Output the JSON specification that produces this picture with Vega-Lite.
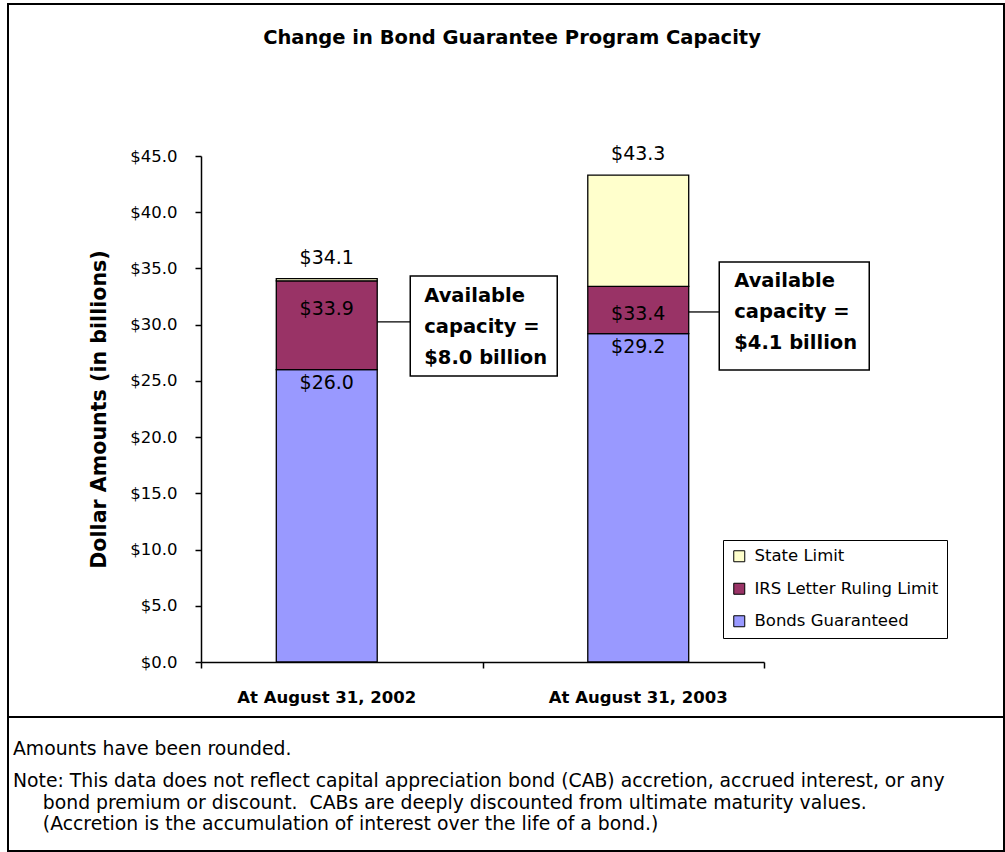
{
  "$schema": "https://vega.github.io/schema/vega-lite/v6.json",
  "background": "white",
  "padding": {"left": 7, "top": 3, "right": 0, "bottom": 0},
  "bounds": "flush",
  "spacing": 0,
  "config": {
    "view": {"stroke": "black", "strokeWidth": 2, "fill": "white"},
    "font": "DejaVu Sans",
    "axis": {"grid": false, "domainColor": "black", "tickColor": "black", "labelColor": "black", "titleColor": "black", "domainWidth": 1.5, "tickWidth": 1.5, "labelFont": "DejaVu Sans", "titleFont": "DejaVu Sans"}
  },
  "datasets": {
    "capacity": [
      {"date": "At August 31, 2002", "series": "Bonds Guaranteed", "value": 26.0},
      {"date": "At August 31, 2002", "series": "IRS Letter Ruling Limit", "value": 7.9},
      {"date": "At August 31, 2002", "series": "State Limit", "value": 0.2},
      {"date": "At August 31, 2003", "series": "Bonds Guaranteed", "value": 29.2},
      {"date": "At August 31, 2003", "series": "IRS Letter Ruling Limit", "value": 4.2},
      {"date": "At August 31, 2003", "series": "State Limit", "value": 9.9}
    ],
    "available": [
      {"date": "At August 31, 2002", "label": "Available\ncapacity =\n$8.0 billion"},
      {"date": "At August 31, 2003", "label": "Available\ncapacity =\n$4.1 billion"}
    ]
  },
  "vconcat": [
    {
      "width": 996,
      "height": 713,
      "title": {
        "text": "Change in Bond Guarantee Program Capacity",
        "font": "DejaVu Sans",
        "fontSize": 19.5,
        "fontWeight": "bold",
        "color": "black",
        "anchor": "middle",
        "frame": "group",
        "offset": -44,
        "dx": 6
      },
      "layer": [
        {
          "layer": [
            {
              "data": {"name": "capacity"},
              "transform": [
                {"stack": "value", "groupby": ["date"], "sort": [{"field": "series", "order": "ascending"}], "as": ["v0", "v1"]}
              ],
              "mark": {"type": "bar", "stroke": "black", "strokeWidth": 1.3},
              "encoding": {
                "x": {
                  "field": "date",
                  "type": "nominal",
                  "scale": {"domain": ["At August 31, 2002", "At August 31, 2003"], "range": [193, 756], "paddingInner": 0.676, "paddingOuter": 0.2417},
                  "axis": {"title": null, "labelAngle": 0, "ticks": false, "tickSize": 0, "labelPadding": 27, "labelFontSize": 16.5, "labelFontWeight": "bold", "offset": -55, "labelLimit": 400}
                },
                "y": {
                  "field": "v0",
                  "type": "quantitative",
                  "scale": {"domain": [0, 45], "range": [658, 152], "nice": false},
                  "axis": {"title": "Dollar Amounts (in billions)", "values": [0, 5, 10, 15, 20, 25, 30, 35, 40, 45], "format": "$.1f", "offset": -193, "tickSize": 6, "labelPadding": 18, "labelFontSize": 16.5, "titleFontSize": 20.6, "titleFontWeight": "bold", "titlePadding": 20}
                },
                "y2": {"field": "v1"},
                "color": {
                  "field": "series",
                  "type": "nominal",
                  "scale": {"domain": ["State Limit", "IRS Letter Ruling Limit", "Bonds Guaranteed"], "range": ["#FFFFCC", "#993366", "#9999FF"]},
                  "legend": {"title": null, "orient": "none", "legendX": 715, "legendY": 536, "direction": "vertical", "fillColor": "white", "strokeColor": "black", "padding": 8, "symbolType": "square", "symbolSize": 121, "symbolStrokeColor": "black", "symbolStrokeWidth": 1, "labelFontSize": 16.5, "labelColor": "black", "labelOffset": 7, "rowPadding": 15.5, "labelFont": "DejaVu Sans", "labelLimit": 400}
                }
              }
            },
            {
              "data": {"name": "capacity"},
              "transform": [
                {"stack": "value", "groupby": ["date"], "sort": [{"field": "series", "order": "ascending"}], "as": ["v0", "v1"]},
                {"filter": "datum.series === 'Bonds Guaranteed'"}
              ],
              "mark": {"type": "text", "dy": 13, "fontSize": 19, "color": "black", "baseline": "middle"},
              "encoding": {
                "x": {"field": "date", "type": "nominal"},
                "y": {"field": "v1", "type": "quantitative"},
                "text": {"field": "v1", "type": "quantitative", "format": "$.1f"}
              }
            },
            {
              "data": {"name": "capacity"},
              "transform": [
                {"stack": "value", "groupby": ["date"], "sort": [{"field": "series", "order": "ascending"}], "as": ["v0", "v1"]},
                {"filter": "datum.series === 'IRS Letter Ruling Limit'"}
              ],
              "mark": {"type": "text", "dy": 28, "fontSize": 19, "color": "black", "baseline": "middle"},
              "encoding": {
                "x": {"field": "date", "type": "nominal"},
                "y": {"field": "v1", "type": "quantitative"},
                "text": {"field": "v1", "type": "quantitative", "format": "$.1f"}
              }
            },
            {
              "data": {"name": "capacity"},
              "transform": [
                {"stack": "value", "groupby": ["date"], "sort": [{"field": "series", "order": "ascending"}], "as": ["v0", "v1"]},
                {"filter": "datum.series === 'State Limit'"}
              ],
              "mark": {"type": "text", "dy": -21, "fontSize": 19, "color": "black", "baseline": "middle"},
              "encoding": {
                "x": {"field": "date", "type": "nominal"},
                "y": {"field": "v1", "type": "quantitative"},
                "text": {"field": "v1", "type": "quantitative", "format": "$.1f"}
              }
            },
            {
              "data": {"name": "available"},
              "transform": [{"filter": "datum.date === 'At August 31, 2002'"}],
              "layer": [
                {
                  "mark": {"type": "rule", "xOffset": 50.5, "x2Offset": 83.5, "color": "black", "strokeWidth": 1.3},
                  "encoding": {"x": {"field": "date", "type": "nominal"}, "x2": {"field": "date"}, "y": {"datum": 30.24}}
                },
                {
                  "mark": {"type": "bar", "width": 147, "xOffset": 157, "fill": "white", "stroke": "black", "strokeWidth": 1.5},
                  "encoding": {"x": {"field": "date", "type": "nominal"}, "y": {"datum": 34.33}, "y2": {"datum": 25.44}}
                },
                {
                  "mark": {"type": "text", "align": "left", "baseline": "middle", "dx": 97.5, "fontSize": 19.5, "fontWeight": "bold", "lineHeight": 31, "lineBreak": "\n", "color": "black"},
                  "encoding": {"x": {"field": "date", "type": "nominal"}, "y": {"datum": 32.55}, "text": {"field": "label", "type": "nominal"}}
                }
              ]
            },
            {
              "data": {"name": "available"},
              "transform": [{"filter": "datum.date === 'At August 31, 2003'"}],
              "layer": [
                {
                  "mark": {"type": "rule", "xOffset": 50.5, "x2Offset": 81, "color": "black", "strokeWidth": 1.3},
                  "encoding": {"x": {"field": "date", "type": "nominal"}, "x2": {"field": "date"}, "y": {"datum": 31.13}}
                },
                {
                  "mark": {"type": "bar", "width": 150, "xOffset": 156, "fill": "white", "stroke": "black", "strokeWidth": 1.5},
                  "encoding": {"x": {"field": "date", "type": "nominal"}, "y": {"datum": 35.57}, "y2": {"datum": 25.97}}
                },
                {
                  "mark": {"type": "text", "align": "left", "baseline": "middle", "dx": 96, "fontSize": 19.5, "fontWeight": "bold", "lineHeight": 31, "lineBreak": "\n", "color": "black"},
                  "encoding": {"x": {"field": "date", "type": "nominal"}, "y": {"datum": 33.88}, "text": {"field": "label", "type": "nominal"}}
                }
              ]
            }
          ]
        },
        {
          "data": {"values": [{}]},
          "mark": {"type": "rule", "opacity": 0},
          "encoding": {
            "x": {
              "datum": 1,
              "type": "quantitative",
              "scale": {"domain": [0, 2], "range": [193, 756], "nice": false, "zero": false},
              "axis": {"orient": "bottom", "values": [0, 1, 2], "labels": false, "domain": false, "ticks": true, "tickSize": 6, "grid": false, "offset": -55, "title": null}
            }
          }
        }
      ],
      "resolve": {"scale": {"x": "independent"}, "axis": {"x": "independent"}}
    },
    {
      "width": 996,
      "height": 134,
      "view": {"stroke": "black", "strokeWidth": 2, "fill": "white"},
      "data": {"values": [{}]},
      "mark": {"type": "text"},
      "encoding": {"text": {"value": ""}},
      "title": {
        "text": "Amounts have been rounded.",
        "subtitle": [
          "Note: This data does not reflect capital appreciation bond (CAB) accretion, accrued interest, or any",
          "\u200b\u00a0\u00a0\u00a0\u00a0\u00a0bond premium or discount.\u00a0 CABs are deeply discounted from ultimate maturity values.",
          "\u200b\u00a0\u00a0\u00a0\u00a0\u00a0(Accretion is the accumulation of interest over the life of a bond.)"
        ],
        "anchor": "start",
        "frame": "group",
        "orient": "top",
        "offset": -117,
        "dx": 5,
        "font": "DejaVu Sans",
        "fontSize": 18.8,
        "fontWeight": "normal",
        "color": "black",
        "subtitleFont": "DejaVu Sans",
        "subtitleFontSize": 18.8,
        "subtitleColor": "black",
        "subtitleLineHeight": 21.5,
        "subtitlePadding": 13
      }
    }
  ]
}
